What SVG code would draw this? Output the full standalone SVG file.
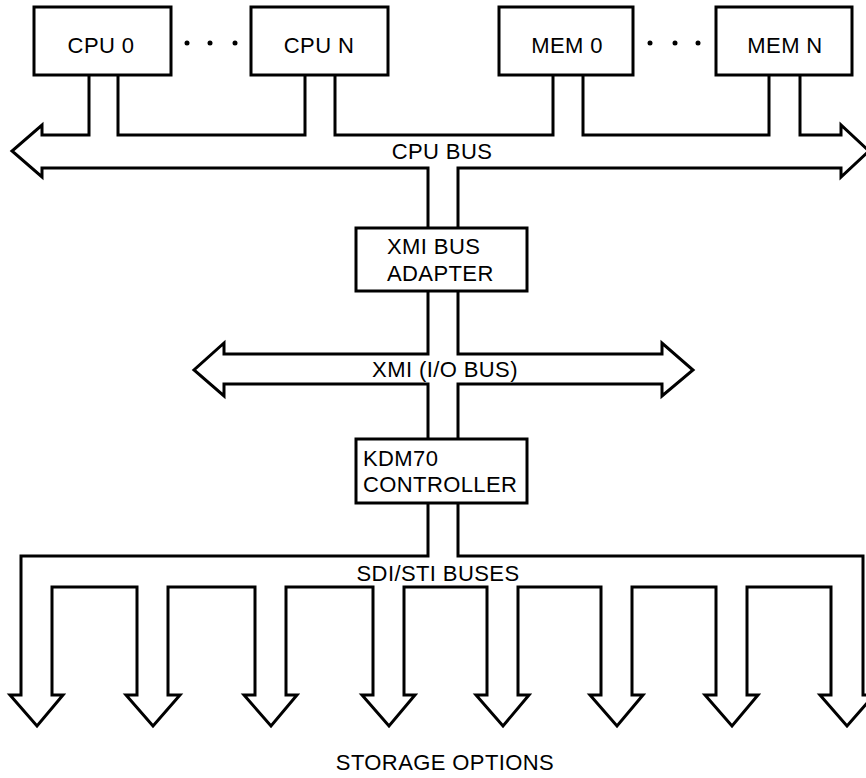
<svg xmlns="http://www.w3.org/2000/svg" width="866" height="778" viewBox="0 0 866 778">
<style>
.box{fill:#fff;stroke:#000;stroke-width:3}
.bus{fill:none;stroke:#000;stroke-width:3;stroke-linejoin:miter}
text{font-family:"Liberation Sans",Arial,sans-serif;font-size:22px;fill:#000;letter-spacing:0.4px}
.c{text-anchor:middle}
.dot{fill:#000}
</style>
<rect width="866" height="778" fill="#fff"/>
<g id="connectors">
<path class="bus" d="M89,75 V135 H42 V125 L12,151 L42,177 V168 H428 V228"/>
<path class="bus" d="M118,75 V135 H305 V75"/>
<path class="bus" d="M335,75 V135 H553 V75"/>
<path class="bus" d="M583,75 V135 H769 V75"/>
<path class="bus" d="M800,75 V135 H841 V125 L869,151 L841,177 V168 H458 V228"/>
<path class="bus" d="M428,291 V354 H224 V343 L194,370 L224,396 V384 H428 V439"/>
<path class="bus" d="M458,291 V354 H662 V343 L693,370 L662,396 V384 H458 V439"/>
<path class="bus" d="M428,503 V556 H21 V695 H10 L37,726 L63,695 H52 V587 H137 V695 H126 L153,726 L180,695 H168 V587 H255 V695 H244 L271,726 L297,695 H286 V587 H373 V695 H362 L389,726 L415,695 H404 V587 H487 V695 H476 L503,726 L529,695 H518 V587 H601 V695 H590 L617,726 L643,695 H632 V587 H716 V695 H705 L732,726 L758,695 H747 V587 H831 V695 H820 L847,726 L874,695 H863 V556 H458 V503"/>
<text class="c" x="442" y="159">CPU BUS</text>
<text class="c" x="445" y="377">XMI (I/O BUS)</text>
<text class="c" x="438" y="581">SDI/STI BUSES</text>
</g>
<g id="cpu0"><rect class="box" x="34" y="7" width="137" height="68"/><text class="c" x="101" y="53">CPU 0</text></g>
<g id="cpuN"><rect class="box" x="251" y="7" width="137" height="68"/><text class="c" x="319" y="53">CPU N</text></g>
<g id="mem0"><rect class="box" x="499" y="7" width="134" height="68"/><text class="c" x="567" y="53">MEM 0</text></g>
<g id="memN"><rect class="box" x="716" y="7" width="136" height="68"/><text class="c" x="785" y="53">MEM N</text></g>
<g id="ellipsis">
<circle class="dot" cx="187" cy="43" r="2.5"/><circle class="dot" cx="210" cy="43" r="2.5"/><circle class="dot" cx="235" cy="43" r="2.5"/>
<circle class="dot" cx="650" cy="43" r="2.5"/><circle class="dot" cx="675" cy="43" r="2.5"/><circle class="dot" cx="698" cy="43" r="2.5"/>
</g>
<g id="xmi-adapter"><rect class="box" x="356" y="228" width="171" height="63"/><text x="387" y="254">XMI BUS</text><text x="387" y="281">ADAPTER</text></g>
<g id="kdm70"><rect class="box" x="356" y="439" width="171" height="64"/><text x="363" y="466">KDM70</text><text x="363" y="492">CONTROLLER</text></g>
<g id="storage"><text class="c" x="445" y="770">STORAGE OPTIONS</text></g>
</svg>
